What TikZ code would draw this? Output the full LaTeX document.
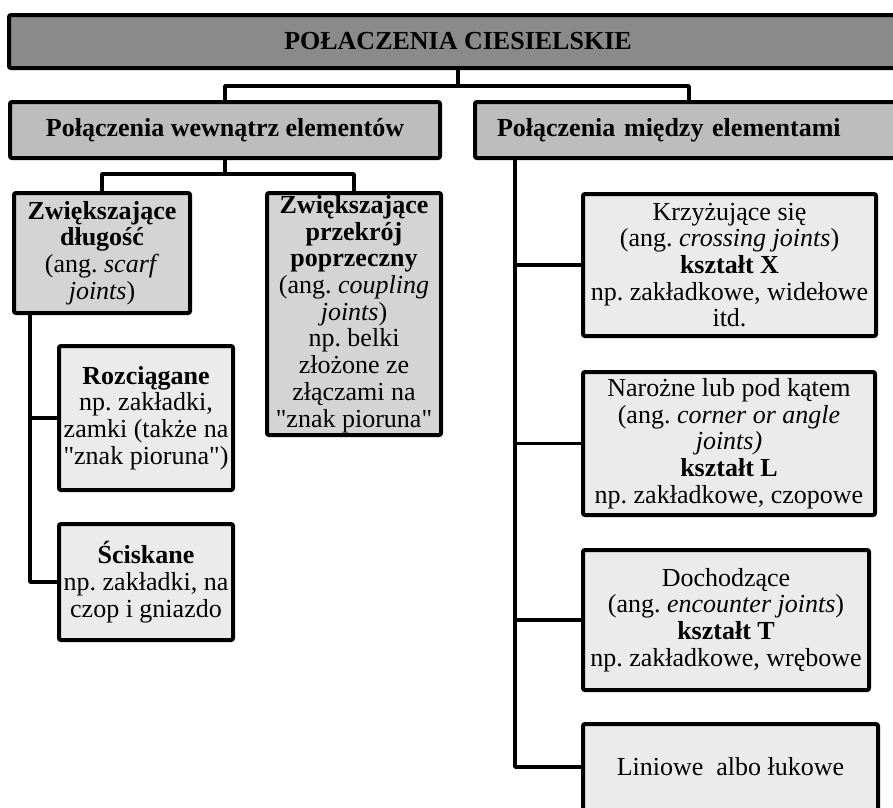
\documentclass[tikz,border=0pt]{standalone}
\usepackage{fontspec}
\setmainfont{Liberation Serif}[Ligatures=TeXOff]
\usepackage{tikz}
\frenchspacing

\begin{document}
\begin{tikzpicture}[x=1pt, y=-1pt,
  box/.style={rectangle, draw=black, line width=4pt, rounded corners=2pt, inner sep=0pt, align=center, font=\fontsize{26}{26.7}\selectfont},
  dark/.style={box, fill=black!46},
  mid/.style={box, fill=black!26},
  light/.style={box, fill=black!17},
  pale/.style={box, fill=black!8},
  conn/.style={draw=black, line width=3.5pt, line join=round}]
\clip (0,0) rectangle (893,807);
\fill[white] (0,0) rectangle (893,807);

\node[dark, minimum width=898pt, minimum height=53pt] (P0) at (458,41.5) {\textbf{POŁACZENIA CIESIELSKIE}};

\node[mid, minimum width=430pt, minimum height=56pt] (W1) at (225,130) {\textbf{Połączenia wewnątrz elementów}};
\node[mid, minimum width=428pt, minimum height=56pt, inner xsep=22pt, text width=384pt, align=left] (M1) at (689,130) {\textbf{Połączenia między elementami}};

\node[light, minimum width=176pt, minimum height=120pt] (Z1) at (102,253) {\textbf{Zwiększające}\\\textbf{długość}\\(ang. \textit{scarf}\\\textit{joints})};
\node[light, minimum width=174pt, minimum height=242pt] (Z2) at (354,314) {\textbf{Zwiększające}\\\textbf{przekrój}\\\textbf{poprzeczny}\\(ang. \textit{coupling}\\\textit{joints})\\np. belki\\złożone ze\\złączami na\\"znak pioruna"};

\node[pale, minimum width=174pt, minimum height=144pt] (R1) at (146,418) {\textbf{Rozciągane}\\np. zakładki,\\zamki (także na\\"znak pioruna")};
\node[pale, minimum width=174pt, minimum height=116pt] (R2) at (146,582) {\textbf{Ściskane}\\np. zakładki, na\\czop i gniazdo};

\node[pale, minimum width=293pt, minimum height=142pt] (K1) at (729.5,265) {Krzyżujące się\\(ang. \textit{crossing joints})\\\textbf{kształt X}\\np. zakładkowe, widełowe\\itd.};
\node[pale, minimum width=292pt, minimum height=143pt] (K2) at (729,443.5) {Narożne lub pod kątem\\(ang. \textit{corner or angle}\\\textit{joints)}\\\textbf{kształt L}\\np. zakładkowe, czopowe};
\node[pale, minimum width=286pt, minimum height=140pt] (K3) at (726,620) {Dochodzące\\(ang. \textit{encounter joints})\\\textbf{kształt T}\\np. zakładkowe, wrębowe};
\node[pale, minimum width=295pt, minimum height=86pt] (K4) at (730.5,767) {Liniowe\ \ albo łukowe};

\draw[conn] (P0.south) -- ++(0,16) coordinate (j0);
\draw[conn] (W1.north) |- (j0) -| (M1.north);
\draw[conn] (W1.south) -- ++(0,14) coordinate (j1);
\draw[conn] (Z1.north) |- (j1) -| (Z2.north);
\draw[conn] ([xshift=-72pt]Z1.south) coordinate (j2) |- (R2.west);
\draw[conn] (R1.west) -- (R1.west -| j2);
\draw[conn] ([xshift=42pt]M1.south west) coordinate (j3) |- (K4.west);
\foreach \k in {K1,K2,K3}
  \draw[conn] (\k.west) -- (\k.west -| j3);
\end{tikzpicture}
\end{document}
